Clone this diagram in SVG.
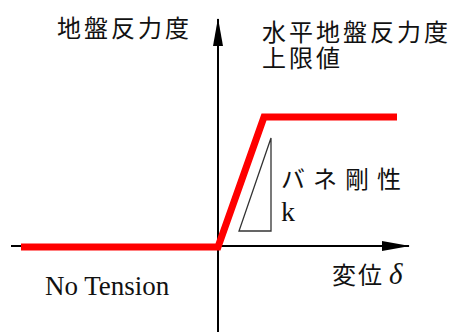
<svg xmlns="http://www.w3.org/2000/svg" width="461" height="332" viewBox="0 0 461 332">
<style>
.jp{font-family:"Noto Sans CJK JP","Noto Sans",sans-serif;fill:#111;}
.sf{font-family:"Liberation Serif",serif;fill:#111;}
.axis{stroke:#000;stroke-width:2;fill:none;}
</style>
<defs>
<marker id="ah" viewBox="0 0 28 10" refX="27" refY="5" markerWidth="28" markerHeight="10" markerUnits="userSpaceOnUse" orient="auto">
<path d="M0,0 L28,5 L0,10 Z" fill="#000"/>
</marker>
</defs>
<g id="connectors">
<line class="axis" x1="218" y1="332" x2="218" y2="19" marker-end="url(#ah)"/>
<line class="axis" x1="11" y1="246" x2="409" y2="246" marker-end="url(#ah)"/>
</g>
<g id="curve">
<polyline points="21,247 218,247 264,117 397,117" fill="none" stroke="#ff0000" stroke-width="7" stroke-linejoin="miter"/>
</g>
<g id="slope-triangle">
<polygon points="239,231 271,231 271,138" fill="none" stroke="#333" stroke-width="1.3"/>
</g>
<g id="labels">
<text class="jp" x="57" y="37" font-size="24" letter-spacing="3">地盤反力度</text>
<text class="jp" x="262" y="41" font-size="24" letter-spacing="3">水平地盤反力度</text>
<text class="jp" x="262" y="67" font-size="24" letter-spacing="3">上限値</text>
<text class="jp" x="281" y="188" font-size="24" letter-spacing="8">バネ剛性</text>
<text class="sf" x="281" y="221" font-size="28">k</text>
<text class="jp" x="332" y="284" font-size="24" letter-spacing="2">変位</text>
<text class="sf" x="389" y="284" font-size="29" font-style="italic">δ</text>
<text class="sf" x="45" y="295" font-size="27">No Tension</text>
</g>
</svg>
